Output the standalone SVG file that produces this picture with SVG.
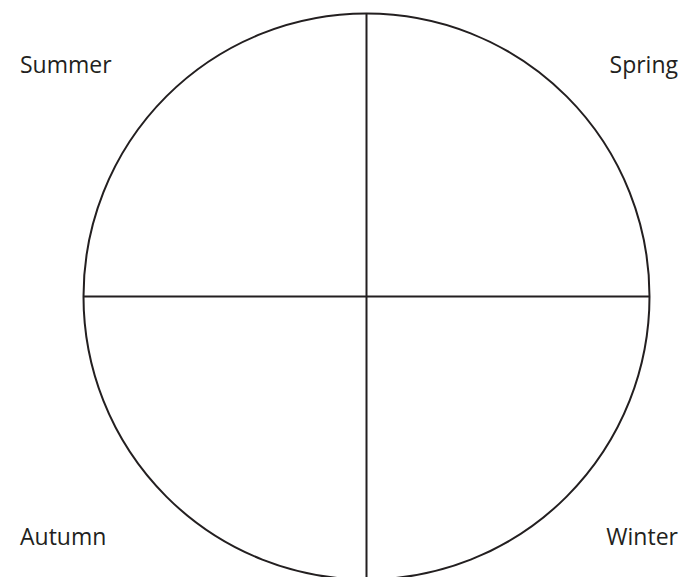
<svg xmlns="http://www.w3.org/2000/svg" width="685" height="577" viewBox="0 0 685 577">
<style>
.ln{fill:none;stroke:#231f20;stroke-width:2}
.lb{font-family:"Open Sans","Noto Sans","Liberation Sans",sans-serif;font-size:23px;fill:#231f20}
</style>
<rect width="685" height="577" fill="#fff"/>
<g id="connectors">
<circle class="ln" cx="366.5" cy="296.5" r="283"/>
<line class="ln" x1="366.5" y1="13.5" x2="366.5" y2="580"/>
<line class="ln" x1="83.5" y1="296.5" x2="649.5" y2="296.5"/>
</g>
<g id="summer"><text class="lb" x="20" y="73">Summer</text></g>
<g id="spring"><text class="lb" x="678" y="73" text-anchor="end">Spring</text></g>
<g id="autumn"><text class="lb" x="20" y="545">Autumn</text></g>
<g id="winter"><text class="lb" x="678" y="545" text-anchor="end">Winter</text></g>
</svg>
